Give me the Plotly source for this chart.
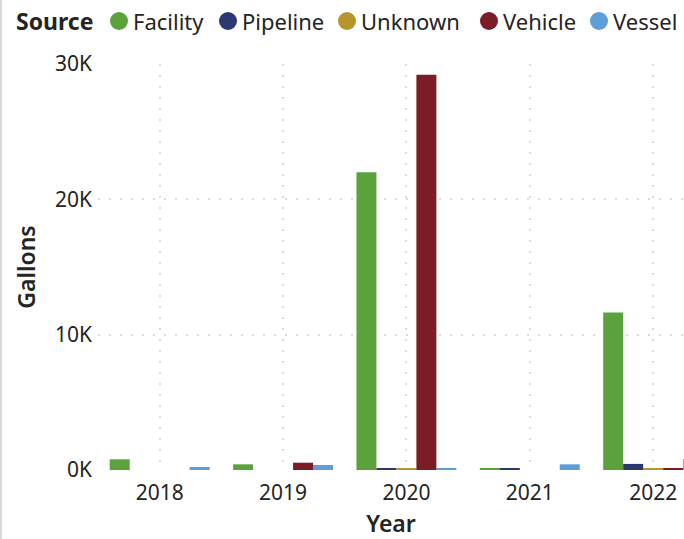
import plotly.graph_objects as go

years = ["2018", "2019", "2020", "2021", "2022"]
sources = ["Facility", "Pipeline", "Unknown", "Vehicle", "Vessel"]
facility = [790, 420, 22000, 100, 11630]
pipeline = [0, 0, 80, 100, 450]
unknown = [0, 0, 80, 0, 100]
vehicle = [0, 540, 29200, 0, 150]
vessel = [220, 370, 120, 420, 820]
colors = ["#5BA23C", "#2C3970", "#B8952B", "#7C1C26", "#5E9DD8"]
y_tickvals = [0, 10000, 20000, 30000]
y_ticktext = ["0K", "10K", "20K", "30K"]

series = [facility, pipeline, unknown, vehicle, vessel]

FONT = "Noto Sans, Segoe UI, sans-serif"
TXT = "#252423"
GRID = "#DCDCDC"

# plot-area geometry (pixels)
L, R, T, B = 98, 0, 64, 69
W, H = 684, 539
PW, PH = W - L - R, H - T - B


def px_x(px):
    return (px - L) / PW


def px_y(py):
    return (H - B - py) / PH


fig = go.Figure()
for name, vals, col in zip(sources, series, colors):
    fig.add_trace(go.Bar(
        x=years, y=vals, name=name,
        marker=dict(color=col, line=dict(width=0)),
        hovertemplate="%{x}<br>" + name + ": %{y}<extra></extra>",
        showlegend=False,
    ))

fig.update_layout(
    width=W, height=H,
    margin=dict(l=L, r=R, t=T, b=B),
    paper_bgcolor="white", plot_bgcolor="white",
    barmode="group", bargap=0.19, bargroupgap=0,
    font=dict(family=FONT, size=21, color=TXT),
    showlegend=False,
    xaxis=dict(
        type="category",
        range=[-0.5, 4.25],
        showgrid=True, gridcolor=GRID, griddash="1.5px,9.5px", gridwidth=1.5,
        showline=False, zeroline=False, ticks="",
        ticklabelstandoff=8,
        tickfont=dict(family=FONT, size=21, color=TXT),
        title=dict(text="Year", font=dict(family=FONT, size=23, color=TXT, weight=600), standoff=12),
    ),
    yaxis=dict(
        range=[0, 30000],
        tickvals=y_tickvals,
        ticktext=y_ticktext,
        showgrid=True, gridcolor=GRID, griddash="1.5px,9.5px", gridwidth=1.5,
        showline=False, zeroline=False, ticks="",
        ticklabelstandoff=5,
        tickfont=dict(family=FONT, size=21, color=TXT),
        title=dict(text="Gallons", font=dict(family=FONT, size=23, color=TXT, weight=600), standoff=12),
    ),
)

# legend drawn as title + coloured dots + labels
LEG_Y = 21
fig.add_annotation(
    xref="paper", yref="paper", x=px_x(14), y=px_y(LEG_Y),
    xanchor="left", yanchor="middle", showarrow=False,
    text="<b>Source</b>", font=dict(family=FONT, size=23, color=TXT),
)
circle_x = [119, 228, 347, 489, 599]
r = 9
for name, col, cx in zip(sources, colors, circle_x):
    fig.add_shape(
        type="circle", xref="paper", yref="paper",
        x0=px_x(cx - r), x1=px_x(cx + r), y0=px_y(LEG_Y + r), y1=px_y(LEG_Y - r),
        fillcolor=col, line=dict(width=0),
    )
    fig.add_annotation(
        xref="paper", yref="paper", x=px_x(cx + r + 3), y=px_y(LEG_Y),
        xanchor="left", yanchor="middle", showarrow=False,
        text=name, font=dict(family=FONT, size=22, color=TXT),
    )

fig.add_shape(type="line", xref="paper", yref="paper",
              x0=px_x(1), x1=px_x(1), y0=px_y(H), y1=px_y(0),
              line=dict(color="#D9D9D9", width=2), layer="above")

fig.write_html("out.html")
